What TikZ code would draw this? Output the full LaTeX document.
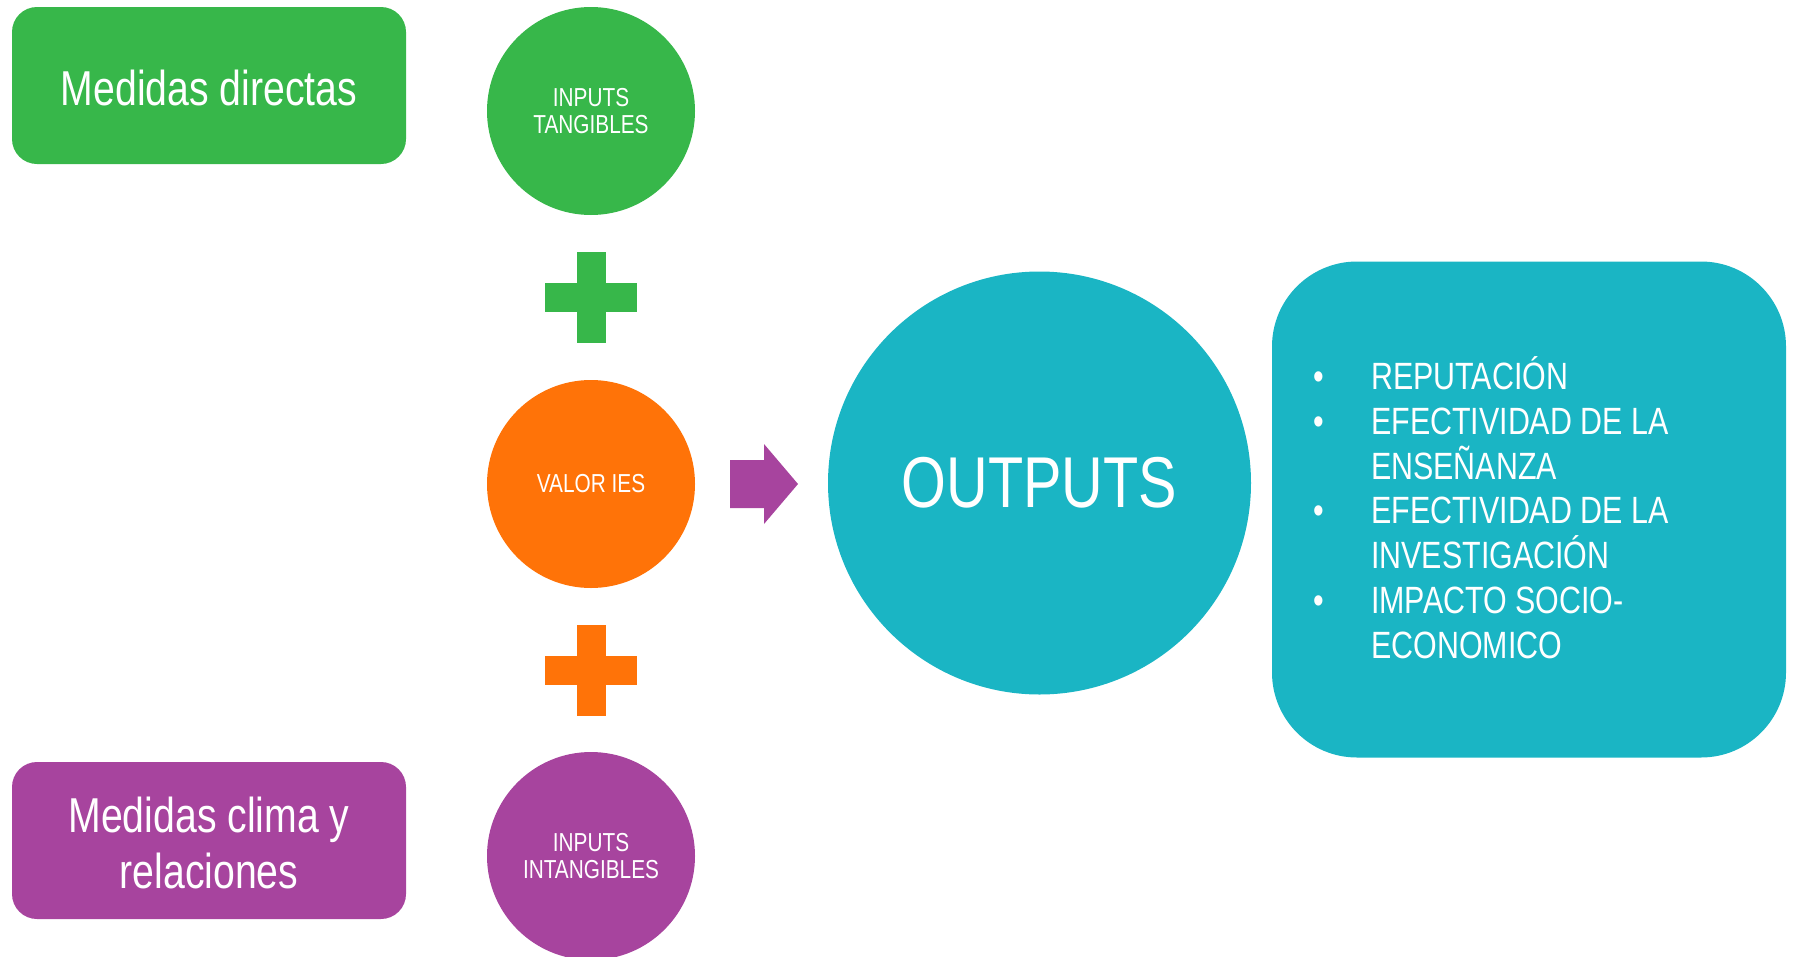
\documentclass[tikz,border=0pt]{standalone}
\usepackage{fontspec}
\setmainfont{Liberation Sans}[FakeStretch=0.8]
\definecolor{cgreen}{RGB}{55,183,74}
\definecolor{corange}{RGB}{255,115,8}
\definecolor{cpurple}{RGB}{167,68,158}
\definecolor{cteal}{RGB}{26,181,196}
\tikzset{
  medbox/.style={rectangle, rounded corners=25pt, minimum width=394pt, minimum height=157pt,
    inner sep=0pt, align=center},
  medtxt/.style={inner sep=0pt, text=white, align=center, font=\fontsize{49}{56}\selectfont},
  incirc/.style={circle, minimum size=208pt, inner sep=0pt, text=white, align=center,
    font=\fontsize{26}{27}\selectfont},
  bigcirc/.style={circle, minimum size=423pt, inner sep=0pt, fill=cteal, text=white,
    font=\fontsize{72}{80}\selectfont},
  listbox/.style={rectangle, rounded corners=85pt, fill=cteal, minimum width=514pt,
    minimum height=496pt, inner sep=0pt},
  listtxt/.style={anchor=base west, inner sep=0pt, text=white, font=\fontsize{38}{45}\selectfont},
  plusmark/.pic={
    \fill (-14.5,-45.5) rectangle (14.5,45.5);
    \fill (-46,-14.5) rectangle (46,14.5);
  }
}
\begin{document}
\begin{tikzpicture}[x=1pt,y=-1pt]
\useasboundingbox (0,0) rectangle (1794,956);
\clip (0,0) rectangle (1794,956);
% left boxes
\node[medbox, fill=cgreen] (md) at (209,85.5) {};
\node[medtxt] (mdt) at (209,88) {Medidas directas};
\node[medbox, fill=cpurple] (mc) at (209,840.5) {};
\node[medtxt] (mct) at (209,843) {Medidas clima y\\relaciones};
% input circles
\node[incirc, fill=cgreen] (it) at (591,111) {INPUTS\\TANGIBLES};
\node[incirc, fill=corange] (vi) at (591,484) {VALOR IES};
\node[incirc, fill=cpurple] (ii) at (591,856) {INPUTS\\INTANGIBLES};
% plus signs
\pic[fill=cgreen] at (591,297.5) {plusmark};
\pic[fill=corange] at (591,670) {plusmark};
% arrow
\fill[cpurple] (730,460) -- (764,460) -- (764,444) -- (798,484) -- (764,524)
  -- (764,508) -- (730,508) -- cycle;
% outputs
\node[bigcirc] (out) at (1039.5,483) {OUTPUTS};
\node[listbox] (lst) at (1529,509.5) {};
% list
\node[listtxt] (b1) at (1313,389.5) {•};
\node[listtxt] (b2) at (1313,434.3) {•};
\node[listtxt] (b3) at (1313,523.9) {•};
\node[listtxt] (b4) at (1313,613.5) {•};
\node[listtxt] (l1) at (1371,389.5) {REPUTACIÓN};
\node[listtxt] (l2) at (1371,434.3) {EFECTIVIDAD DE LA};
\node[listtxt] (l3) at (1371,479.1) {ENSEÑANZA};
\node[listtxt] (l4) at (1371,523.9) {EFECTIVIDAD DE LA};
\node[listtxt] (l5) at (1371,568.7) {INVESTIGACIÓN};
\node[listtxt] (l6) at (1371,613.5) {IMPACTO SOCIO-};
\node[listtxt] (l7) at (1371,658.3) {ECONOMICO};
\end{tikzpicture}
\end{document}
